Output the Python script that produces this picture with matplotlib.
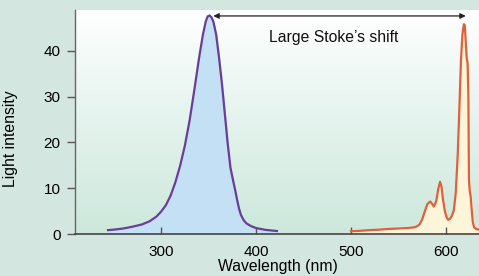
import matplotlib.pyplot as plt
import numpy as np
from matplotlib.colors import LinearSegmentedColormap

plt.rcParams['font.family'] = ['Liberation Sans', 'DejaVu Sans']

# absorption spectrum
abs_wl = [244, 250, 260, 270, 280, 288, 295, 300, 305, 310, 315, 320, 325, 330, 335,
          340, 344, 347, 349, 351, 353, 355, 358, 361, 364, 367, 370, 373, 376, 378,
          380, 382, 384, 387, 390, 395, 400, 410, 422]
abs_val = [0.85, 0.95, 1.2, 1.6, 2.1, 2.8, 3.8, 4.9, 6.3, 8.4, 11.3, 14.9, 19.3, 24.8, 31.5,
           38.5, 43.5, 46.4, 47.5, 47.7, 47.3, 46.4, 43.5, 38.5, 32.9, 26.5, 20.0, 14.5, 11.5, 9.6,
           7.5, 5.6, 4.2, 3.0, 2.3, 1.7, 1.3, 0.9, 0.65]

# emission spectrum
em_wl = [500, 510, 520, 530, 540, 550, 560, 568, 572, 575, 578, 580.5, 583.5, 585.5, 587.5,
         590, 592, 594, 595.5, 597, 599, 601, 602.5, 604.5, 606.5, 608.5, 610.5, 612.5, 614,
         616, 617.5, 619, 620, 621, 622, 623, 623.8, 624.4, 625.2, 626.2, 627.2, 628.5, 630,
         632, 636]
em_val = [0.6, 0.7, 0.85, 0.95, 1.1, 1.2, 1.3, 1.5, 2.0, 3.1, 5.0, 6.5, 7.1, 6.6, 6.0,
          7.2, 9.8, 11.4, 10.3, 7.6, 5.0, 3.6, 3.1, 3.3, 4.0, 5.2, 9.0, 17.0, 25.5,
          38.0, 43.5, 45.8, 45.6, 42.0, 38.5, 37.2, 30.0, 12.0, 9.4, 8.2, 5.5, 2.5, 1.4,
          1.1, 0.9]

xticks = [300, 400, 500, 600]
yticks = [0, 10, 20, 30, 40]

fig = plt.figure(figsize=(4.79, 2.76), dpi=100)
fig.patch.set_facecolor('#d4e6e0')
ax = fig.add_axes([75 / 479, 1 - 234 / 276, 1 - 75 / 479 + 0.002, 224 / 276])
ax.set_xlim(209.2, 636)
ax.set_ylim(0, 48.9)

# gradient background
cmap = LinearSegmentedColormap.from_list('bg', ['#cde8db', '#e4f3ed', '#ffffff'])
grad = np.linspace(0, 1, 256).reshape(-1, 1)
ax.imshow(grad, extent=[0, 1, 0, 1], transform=ax.transAxes, origin='lower',
          cmap=cmap, aspect='auto', zorder=0)

ax.fill_between(abs_wl, abs_val, 0, color='#c4e0f4', zorder=1)
ax.plot(abs_wl, abs_val, color='#6a3d98', lw=1.6, zorder=2, solid_joinstyle='round')
ax.fill_between(em_wl, em_val, 0, color='#fdf5d9', zorder=1)
ax.plot(em_wl, em_val, color='#e0603e', lw=1.6, zorder=2, solid_joinstyle='round')

ax.annotate('', xy=(355, 47.6), xytext=(621, 47.6),
            arrowprops=dict(arrowstyle='<|-|>', color='#222222', lw=0.9,
                            mutation_scale=8, shrinkA=0, shrinkB=0))
ax.text(482, 43, 'Large Stoke\u2019s shift', ha='center', va='center', fontsize=11.3,
        color='#111111')

ax.set_xticks(xticks)
ax.set_yticks(yticks)
ax.tick_params(axis='x', direction='in', length=5, width=1, color='#555555',
               labelsize=11, pad=8)
ax.tick_params(axis='y', direction='out', length=6, width=1, color='#555555',
               labelsize=11, pad=4.5)
for s in ['top', 'right']:
    ax.spines[s].set_visible(False)
ax.spines['left'].set_color('#666666')
ax.spines['bottom'].set_color('#444444')
ax.spines['left'].set_linewidth(1)
ax.spines['bottom'].set_linewidth(1.2)

ax.set_xlabel('Wavelength (nm)', fontsize=11.3)
ax.xaxis.set_label_coords(0.5, -0.147)
ax.xaxis.label.set_va('center')
ax.set_ylabel('Light intensity', fontsize=11.3)
ax.yaxis.set_label_coords(-0.141, 0.424)

fig.savefig('out.png', dpi=100, facecolor=fig.get_facecolor())
